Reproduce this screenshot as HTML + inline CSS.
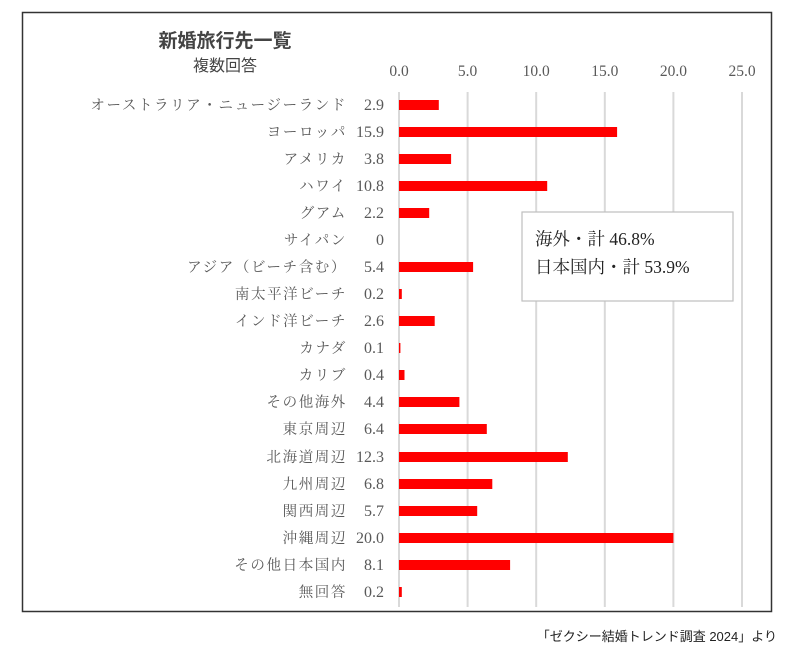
<!DOCTYPE html>
<html><head><meta charset="utf-8"><style>
html,body{margin:0;padding:0;background:#fff;}
svg{display:block;}
.l{font-family:"Liberation Serif","Noto Serif CJK JP","Noto Serif CJK SC",serif;font-size:14.5px;fill:#595959;letter-spacing:1.6px;}
.v{font-family:"Liberation Serif","Noto Serif CJK JP",serif;font-size:16px;fill:#595959;}
.t{font-family:"Liberation Serif","Noto Serif CJK JP",serif;font-size:15.5px;fill:#595959;}
</style></head><body>
<svg width="794" height="659" viewBox="0 0 794 659" xmlns="http://www.w3.org/2000/svg">
<rect x="22.5" y="12.5" width="749" height="599" fill="#fff" stroke="#333" stroke-width="1.5"/>
<text x="225" y="47" text-anchor="middle" font-family="'Liberation Sans','Noto Sans CJK JP',sans-serif" font-size="19" font-weight="bold" fill="#444">新婚旅行先一覧</text>
<text x="225" y="71" text-anchor="middle" font-family="'Liberation Sans','Noto Sans CJK JP',sans-serif" font-size="16" fill="#444">複数回答</text>
<g stroke="#d9d9d9" stroke-width="2">
<line x1="399" y1="92" x2="399" y2="607"/><line x1="467.6" y1="92" x2="467.6" y2="607"/><line x1="536.2" y1="92" x2="536.2" y2="607"/><line x1="604.8" y1="92" x2="604.8" y2="607"/><line x1="673.4" y1="92" x2="673.4" y2="607"/><line x1="742" y1="92" x2="742" y2="607"/>
</g>
<g class="t" text-anchor="middle">
<text x="399" y="76">0.0</text><text x="467.6" y="76">5.0</text><text x="536.2" y="76">10.0</text><text x="604.8" y="76">15.0</text><text x="673.4" y="76">20.0</text><text x="742" y="76">25.0</text>
</g>
<g fill="#ff0000">
<rect x="399" y="100" width="39.8" height="10"/>
<rect x="399" y="127" width="218.1" height="10"/>
<rect x="399" y="154" width="52.1" height="10"/>
<rect x="399" y="181" width="148.2" height="10"/>
<rect x="399" y="208" width="30.2" height="10"/>
<rect x="399" y="262" width="74.1" height="10"/>
<rect x="399" y="289" width="2.8" height="10"/>
<rect x="399" y="316" width="35.7" height="10"/>
<rect x="399" y="343" width="1.4" height="10"/>
<rect x="399" y="370" width="5.5" height="10"/>
<rect x="399" y="397" width="60.4" height="10"/>
<rect x="399" y="424" width="87.8" height="10"/>
<rect x="399" y="452" width="168.8" height="10"/>
<rect x="399" y="479" width="93.3" height="10"/>
<rect x="399" y="506" width="78.2" height="10"/>
<rect x="399" y="533" width="274.4" height="10"/>
<rect x="399" y="560" width="111.1" height="10"/>
<rect x="399" y="587" width="2.8" height="10"/>
</g>
<g class="l" text-anchor="end">
<text x="347" y="110">オーストラリア・ニュージーランド</text>
<text x="347" y="137">ヨーロッパ</text>
<text x="347" y="164">アメリカ</text>
<text x="347" y="191">ハワイ</text>
<text x="347" y="218">グアム</text>
<text x="347" y="245">サイパン</text>
<text x="347" y="272">アジア（ビーチ含む）</text>
<text x="347" y="299">南太平洋ビーチ</text>
<text x="347" y="326">インド洋ビーチ</text>
<text x="347" y="353">カナダ</text>
<text x="347" y="380">カリブ</text>
<text x="347" y="407">その他海外</text>
<text x="347" y="434">東京周辺</text>
<text x="347" y="462">北海道周辺</text>
<text x="347" y="489">九州周辺</text>
<text x="347" y="516">関西周辺</text>
<text x="347" y="543">沖縄周辺</text>
<text x="347" y="570">その他日本国内</text>
<text x="347" y="597">無回答</text>
</g>
<g class="v" text-anchor="end">
<text x="384" y="110">2.9</text><text x="384" y="137">15.9</text><text x="384" y="164">3.8</text><text x="384" y="191">10.8</text><text x="384" y="218">2.2</text><text x="384" y="245">0</text><text x="384" y="272">5.4</text><text x="384" y="299">0.2</text><text x="384" y="326">2.6</text><text x="384" y="353">0.1</text><text x="384" y="380">0.4</text><text x="384" y="407">4.4</text><text x="384" y="434">6.4</text><text x="384" y="462">12.3</text><text x="384" y="489">6.8</text><text x="384" y="516">5.7</text><text x="384" y="543">20.0</text><text x="384" y="570">8.1</text><text x="384" y="597">0.2</text>
</g>
<rect x="522" y="212" width="211" height="89" fill="#fff" stroke="#bfbfbf" stroke-width="1.2"/>
<g font-family="'Liberation Serif','Noto Serif CJK JP',serif" font-size="17.5" fill="#222">
<text x="535" y="245">海外・計 46.8%</text>
<text x="535" y="273">日本国内・計 53.9%</text>
</g>
<text x="777" y="641" text-anchor="end" font-family="'Liberation Sans','Noto Sans CJK JP',sans-serif" font-size="13" fill="#222">「ゼクシー結婚トレンド調査 2024」より</text>
</svg>
</body></html>
